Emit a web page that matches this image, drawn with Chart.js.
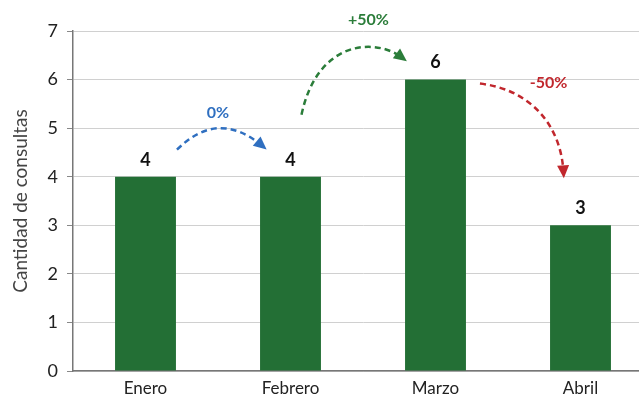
<!DOCTYPE html>
<html>
<head>
<meta charset="utf-8">
<script src="https://cdn.jsdelivr.net/npm/chart.js@4.4.0/dist/chart.umd.min.js"></script>
<style>
  html, body { margin: 0; padding: 0; background: #fff; overflow: hidden; }
  #wrap { width: 660px; height: 401px; }
</style>
</head>
<body>
<div id="wrap"><canvas id="myChart" width="660" height="401"></canvas></div>
<script>
// data
const months = ['Enero', 'Febrero', 'Marzo', 'Abril'];
const consultas = [4, 4, 6, 3];
const yTicks = [0, 1, 2, 3, 4, 5, 6, 7];
const arrowColors = ['#2f6fc0', '#2b7d3a', '#c1272d'];

const barGreen = '#236f35';
const font = 'Lato, "Open Sans", sans-serif';

// how each arrow sits around its two bars (offsets in px)
const arrowShapes = [
    { s: [1, -27, 'r'], e: [2, -31, 'l'], c1: [0, -68, 'm'], c2: null, lab: [0, -64, 'm'] },
    { s: [11, -62, 'c'], e: [-3, -22, 'l'], c1: [27, -137, 'c'], c2: [-60, -42, 'bc'], lab: [-67, -60, 'bc'] },
    { s: [14, 4, 'r'], e: [-17, -53, 'bc'], c1: [90, 9, 'c'], c2: [-20, -105, 'bc'], lab: [113, 3, 'c'] }
];

function pt(spec, a, b) {
    const [dx, dy, ref] = spec;
    if (ref === 'r') return [a.x + a.width / 2 + dx, a.y + dy];
    if (ref === 'c') return [a.x + dx, a.y + dy];
    if (ref === 'l') return [b.x - b.width / 2 + dx, b.y + dy];
    if (ref === 'bc') return [b.x + dx, b.y + dy];
    return [(a.x + a.width / 2 + b.x - b.width / 2) / 2 + dx, a.y + dy];
}

const arrowsPlugin = {
    id: 'arrows',
    afterDatasetsDraw(chart) {
        const ctx = chart.ctx;
        const bars = chart.getDatasetMeta(0).data;
        // value labels
        ctx.save();
        ctx.fillStyle = '#111';
        ctx.font = 'bold 18px ' + font;
        ctx.textAlign = 'center';
        ctx.textBaseline = 'middle';
        bars.forEach((bar, i) => ctx.fillText(String(consultas[i]), bar.x, bar.y - 17));
        ctx.restore();

        for (let i = 0; i < consultas.length - 1; i++) {
            const a = bars[i], b = bars[i + 1];
            const sh = arrowShapes[i];
            const col = arrowColors[i];
            const p0 = pt(sh.s, a, b), p3 = pt(sh.e, a, b), c1 = pt(sh.c1, a, b);
            const c2 = sh.c2 ? pt(sh.c2, a, b) : null;
            ctx.save();
            ctx.strokeStyle = col;
            ctx.lineWidth = 2.5;
            ctx.setLineDash([6, 4]);
            ctx.beginPath();
            ctx.moveTo(p0[0], p0[1]);
            if (c2) ctx.bezierCurveTo(c1[0], c1[1], c2[0], c2[1], p3[0], p3[1]);
            else ctx.quadraticCurveTo(c1[0], c1[1], p3[0], p3[1]);
            ctx.stroke();
            // arrow head
            const from = c2 || c1;
            const ang = Math.atan2(p3[1] - from[1], p3[0] - from[0]);
            ctx.setLineDash([]);
            ctx.fillStyle = col;
            ctx.translate(p3[0], p3[1]);
            ctx.rotate(ang);
            ctx.beginPath();
            ctx.moveTo(6, 0);
            ctx.lineTo(-7, -6);
            ctx.lineTo(-7, 6);
            ctx.closePath();
            ctx.fill();
            ctx.restore();

            // percentage label
            const pct = Math.round((consultas[i + 1] - consultas[i]) / consultas[i] * 100);
            const txt = (pct > 0 ? '+' : '') + pct + '%';
            const lp = pt(sh.lab, a, b);
            ctx.save();
            ctx.fillStyle = col;
            ctx.font = 'bold 16px ' + font;
            ctx.textAlign = 'center';
            ctx.textBaseline = 'middle';
            ctx.fillText(txt, lp[0], lp[1]);
            ctx.restore();
        }
    }
};

const ctx = document.getElementById('myChart').getContext('2d');
const myChart = new Chart(ctx, {
    type: 'bar',
    data: {
        labels: months,
        datasets: [{
            label: 'Consultas',
            data: consultas,
            backgroundColor: barGreen,
            borderWidth: 0,
            categoryPercentage: 1,
            barPercentage: 0.42
        }]
    },
    options: {
        responsive: false,
        animation: false,
        layout: { padding: { top: 31, right: 7, left: 9, bottom: 0 } },
        plugins: { legend: { display: false }, tooltip: { enabled: false } },
        scales: {
            x: {
                grid: { drawOnChartArea: false, drawTicks: false },
                border: { display: true, color: '#777', width: 1.5 },
                ticks: { color: '#222', font: { family: font, size: 17 }, padding: 7 },
                afterFit(scale) { scale.height = 30; }
            },
            y: {
                min: 0,
                max: 7,
                afterBuildTicks(scale) { scale.ticks = yTicks.map(v => ({ value: v })); },
                grid: {
                    color: '#d0d0d0',
                    lineWidth: 1,
                    tickColor: '#888',
                    tickLength: 6,
                    tickBorderDash: [],
                    borderDash: [5, 4]
                },
                border: { display: true, color: '#777', width: 1.5 },
                ticks: { color: '#222', font: { family: font, size: 18 }, padding: 9 },
                title: {
                    display: true,
                    text: 'Cantidad de consultas',
                    color: '#444',
                    font: { family: font, size: 19 },
                    padding: 0
                },
                afterFit(scale) { scale.width = 64; }
            }
        }
    },
    plugins: [arrowsPlugin]
});
</script>
</body>
</html>
